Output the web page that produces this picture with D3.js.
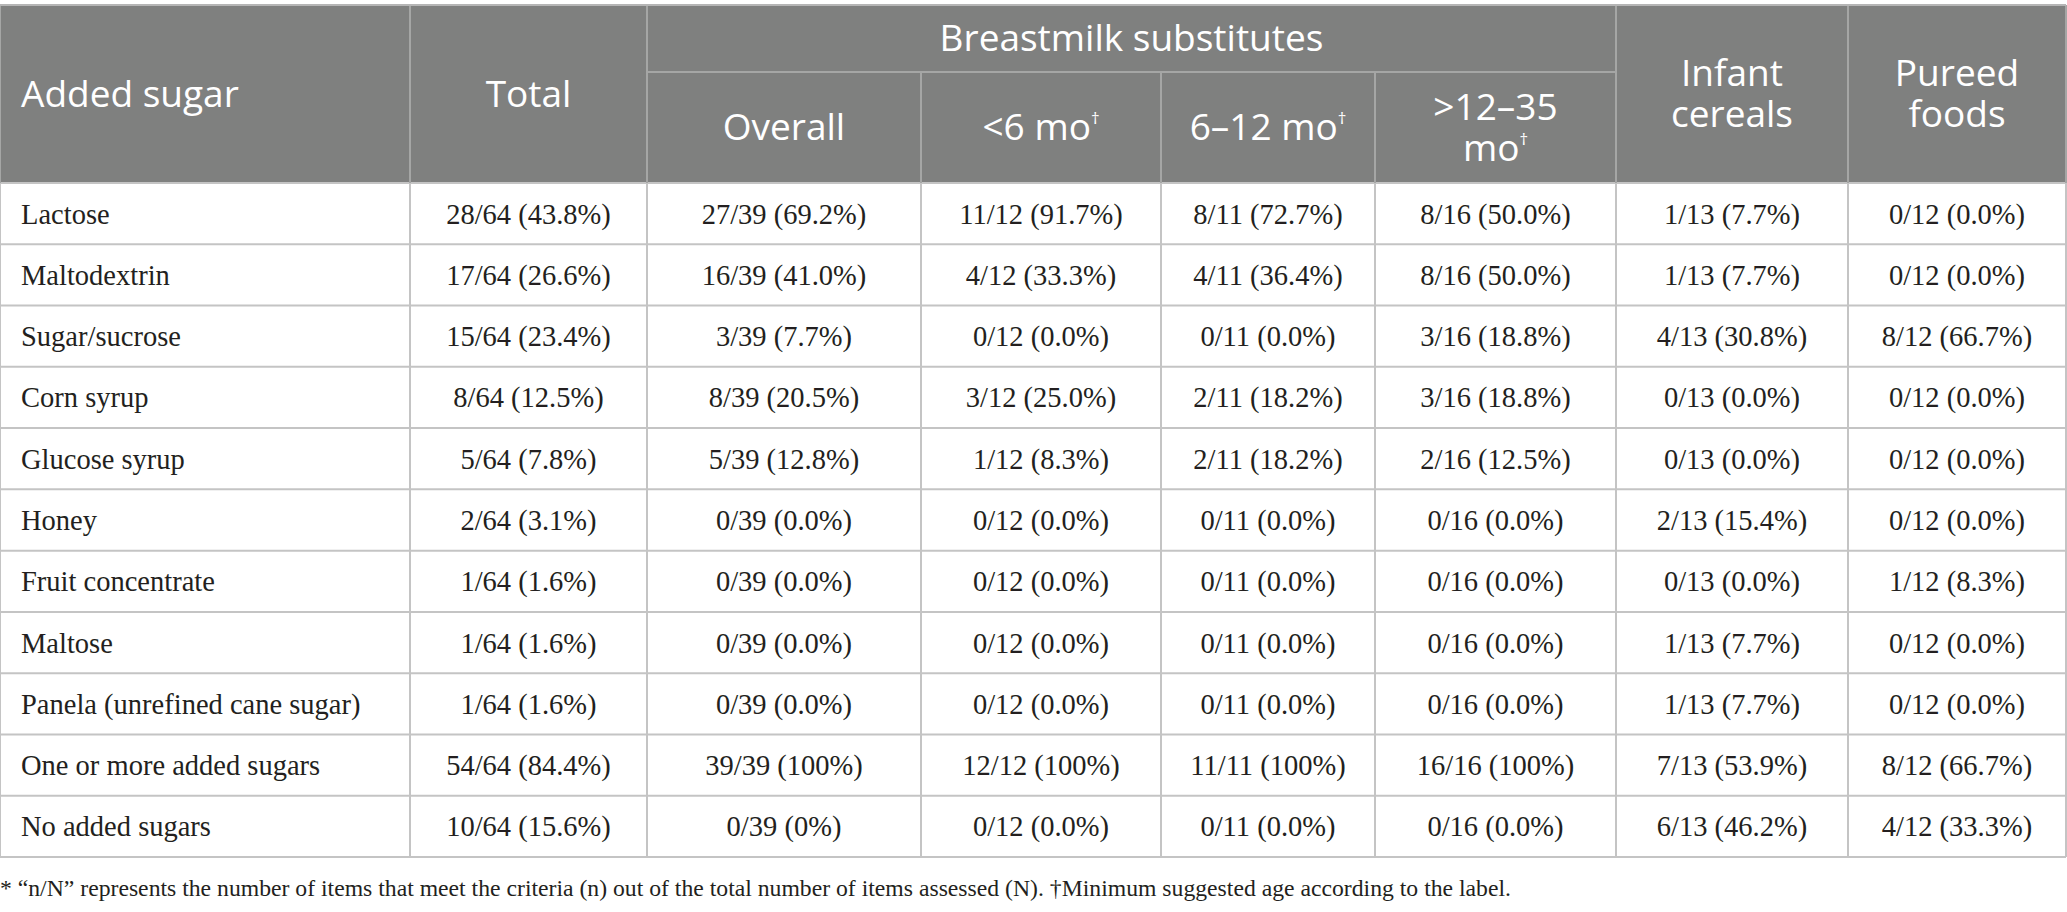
<!DOCTYPE html>
<html>
<head>
<meta charset="utf-8">
<script src="https://cdn.jsdelivr.net/npm/d3@7"></script>
<style>
  body { margin: 0; background: #fff; }
  svg { display: block; }
</style>
</head>
<body>
<div id="chart"></div>
<script>
var sugars = ["Lactose", "Maltodextrin", "Sugar/sucrose", "Corn syrup", "Glucose syrup", "Honey",
  "Fruit concentrate", "Maltose", "Panela (unrefined cane sugar)", "One or more added sugars", "No added sugars"];

var totalVals = ["28/64 (43.8%)", "17/64 (26.6%)", "15/64 (23.4%)", "8/64 (12.5%)", "5/64 (7.8%)", "2/64 (3.1%)",
  "1/64 (1.6%)", "1/64 (1.6%)", "1/64 (1.6%)", "54/64 (84.4%)", "10/64 (15.6%)"];
var overallVals = ["27/39 (69.2%)", "16/39 (41.0%)", "3/39 (7.7%)", "8/39 (20.5%)", "5/39 (12.8%)", "0/39 (0.0%)",
  "0/39 (0.0%)", "0/39 (0.0%)", "0/39 (0.0%)", "39/39 (100%)", "0/39 (0%)"];
var under6Vals = ["11/12 (91.7%)", "4/12 (33.3%)", "0/12 (0.0%)", "3/12 (25.0%)", "1/12 (8.3%)", "0/12 (0.0%)",
  "0/12 (0.0%)", "0/12 (0.0%)", "0/12 (0.0%)", "12/12 (100%)", "0/12 (0.0%)"];
var m6to12Vals = ["8/11 (72.7%)", "4/11 (36.4%)", "0/11 (0.0%)", "2/11 (18.2%)", "2/11 (18.2%)", "0/11 (0.0%)",
  "0/11 (0.0%)", "0/11 (0.0%)", "0/11 (0.0%)", "11/11 (100%)", "0/11 (0.0%)"];
var m12to35Vals = ["8/16 (50.0%)", "8/16 (50.0%)", "3/16 (18.8%)", "3/16 (18.8%)", "2/16 (12.5%)", "0/16 (0.0%)",
  "0/16 (0.0%)", "0/16 (0.0%)", "0/16 (0.0%)", "16/16 (100%)", "0/16 (0.0%)"];
var cerealVals = ["1/13 (7.7%)", "1/13 (7.7%)", "4/13 (30.8%)", "0/13 (0.0%)", "0/13 (0.0%)", "2/13 (15.4%)",
  "0/13 (0.0%)", "1/13 (7.7%)", "1/13 (7.7%)", "7/13 (53.9%)", "6/13 (46.2%)"];
var pureedVals = ["0/12 (0.0%)", "0/12 (0.0%)", "8/12 (66.7%)", "0/12 (0.0%)", "0/12 (0.0%)", "0/12 (0.0%)",
  "1/12 (8.3%)", "0/12 (0.0%)", "0/12 (0.0%)", "8/12 (66.7%)", "4/12 (33.3%)"];

var columnKeys = ["sugar", "total", "overall", "under6", "m6to12", "m12to35", "cereal", "pureed"];
var valueColumns = [totalVals, overallVals, under6Vals, m6to12Vals, m12to35Vals, cerealVals, pureedVals];

var groupLabel = "Breastmilk substitutes";
var footnote = "* \u201cn/N\u201d represents the number of items that meet the criteria (n) out of the total number of items assessed (N). \u2020Minimum suggested age according to the label.";

function init() {
  var w = 2067, h = 912;

  // layout (column edges, header band, rows)
  var colEdges = [0, 410, 647, 921, 1161, 1375, 1616, 1848, 2066];
  var tableTop = 5, groupBottom = 72, headBottom = 183, tableBottom = 857;

  var xLeft = d3.scaleOrdinal().domain(columnKeys).range(colEdges.slice(0, 8));
  var xRight = d3.scaleOrdinal().domain(columnKeys).range(colEdges.slice(1));
  function xMid(k) { return (xLeft(k) + xRight(k)) / 2; }

  var yScale = d3.scaleBand()
    .domain(d3.range(sugars.length))
    .range([headBottom, tableBottom]);

  var headFont = "'Open Sans', 'Noto Sans', sans-serif";
  var bodyFont = "'Liberation Serif', 'DejaVu Serif', serif";
  var headBg = "#7f807f";
  var bodyLine = "#c4c4c4";
  var headLine = "#a5a6a5";

  var svg = d3.select("#chart")
    .append("svg")
    .attr("width", w)
    .attr("height", h);

  // header background
  svg.append("rect")
    .attr("x", 0).attr("y", tableTop)
    .attr("width", colEdges[8]).attr("height", headBottom - tableTop)
    .attr("fill", headBg);

  // row grid lines
  svg.selectAll("line.row")
    .data(d3.range(sugars.length + 1))
    .enter()
    .append("line")
    .attr("class", "row")
    .attr("x1", 0).attr("x2", colEdges[8])
    .attr("y1", function(d) { return yScale(0) + d * yScale.bandwidth(); })
    .attr("y2", function(d) { return yScale(0) + d * yScale.bandwidth(); })
    .attr("stroke", bodyLine)
    .attr("stroke-width", 2);

  // column lines in body
  svg.selectAll("line.col")
    .data(colEdges)
    .enter()
    .append("line")
    .attr("class", "col")
    .attr("x1", function(d) { return d; }).attr("x2", function(d) { return d; })
    .attr("y1", headBottom).attr("y2", tableBottom)
    .attr("stroke", bodyLine)
    .attr("stroke-width", 2);

  // header lines
  var headCols = [
    { x: colEdges[0], y1: tableTop, y2: headBottom },
    { x: colEdges[1], y1: tableTop, y2: headBottom },
    { x: colEdges[2], y1: tableTop, y2: headBottom },
    { x: colEdges[3], y1: groupBottom, y2: headBottom },
    { x: colEdges[4], y1: groupBottom, y2: headBottom },
    { x: colEdges[5], y1: groupBottom, y2: headBottom },
    { x: colEdges[6], y1: tableTop, y2: headBottom },
    { x: colEdges[7], y1: tableTop, y2: headBottom },
    { x: colEdges[8], y1: tableTop, y2: headBottom }
  ];
  svg.selectAll("line.hcol")
    .data(headCols)
    .enter()
    .append("line")
    .attr("class", "hcol")
    .attr("x1", function(d) { return d.x; }).attr("x2", function(d) { return d.x; })
    .attr("y1", function(d) { return d.y1; }).attr("y2", function(d) { return d.y2; })
    .attr("stroke", headLine)
    .attr("stroke-width", 2);

  svg.append("line")
    .attr("x1", colEdges[2]).attr("x2", colEdges[6])
    .attr("y1", groupBottom).attr("y2", groupBottom)
    .attr("stroke", headLine).attr("stroke-width", 2);

  svg.append("line")
    .attr("x1", 0).attr("x2", colEdges[8])
    .attr("y1", tableTop).attr("y2", tableTop)
    .attr("stroke", "#b5b5b5").attr("stroke-width", 2);

  // header text
  var head = svg.append("g")
    .attr("font-family", headFont)
    .attr("font-size", 37)
    .attr("fill", "#fff");

  var midHead = (tableTop + headBottom) / 2;
  var subMid = (groupBottom + headBottom) / 2;

  head.append("text")
    .attr("x", 21).attr("y", midHead)
    .attr("dy", "0.35em")
    .text("Added sugar");

  head.append("text")
    .attr("x", xMid("total")).attr("y", midHead)
    .attr("dy", "0.35em").attr("text-anchor", "middle")
    .text("Total");

  head.append("text")
    .attr("x", (colEdges[2] + colEdges[6]) / 2).attr("y", (tableTop + groupBottom) / 2)
    .attr("dy", "0.35em").attr("text-anchor", "middle")
    .text(groupLabel);

  var subHeads = [
    { key: "overall", lines: [["Overall", false]] },
    { key: "under6", lines: [["<6 mo", true]] },
    { key: "m6to12", lines: [["6\u201312 mo", true]] },
    { key: "m12to35", lines: [[">12\u201335", false], ["mo", true]] }
  ];
  var lineGap = 41;

  function drawHead(cx, cy, lines) {
    var t = head.append("text")
      .attr("x", cx)
      .attr("text-anchor", "middle");
    lines.forEach(function(l, i) {
      var y = cy + (i - (lines.length - 1) / 2) * lineGap;
      t.append("tspan")
        .attr("x", cx).attr("y", y).attr("dy", "0.35em")
        .text(l[0]);
      if (l[1]) {
        t.append("tspan")
          .attr("font-size", 17)
          .attr("dy", "-0.95em")
          .text("\u2020");
      }
    });
  }

  subHeads.forEach(function(s) { drawHead(xMid(s.key), subMid, s.lines); });
  drawHead(xMid("cereal"), midHead, [["Infant", false], ["cereals", false]]);
  drawHead(xMid("pureed"), midHead, [["Pureed", false], ["foods", false]]);

  // body cells
  var body = svg.append("g")
    .attr("font-family", bodyFont)
    .attr("font-size", 28.5)
    .attr("fill", "#231f20");

  body.selectAll("text.label")
    .data(sugars)
    .enter()
    .append("text")
    .attr("class", "label")
    .attr("x", 21)
    .attr("y", function(d, i) { return yScale(i) + yScale.bandwidth() / 2; })
    .attr("dy", "0.35em")
    .text(function(d) { return d; });

  valueColumns.forEach(function(vals, c) {
    var key = columnKeys[c + 1];
    body.selectAll("text.c" + c)
      .data(vals)
      .enter()
      .append("text")
      .attr("class", "c" + c)
      .attr("x", xMid(key))
      .attr("y", function(d, i) { return yScale(i) + yScale.bandwidth() / 2; })
      .attr("dy", "0.35em")
      .attr("text-anchor", "middle")
      .text(function(d) { return d; });
  });

  svg.append("text")
    .attr("x", 0).attr("y", 888)
    .attr("dy", "0.35em")
    .attr("font-family", bodyFont)
    .attr("font-size", 23.7)
    .attr("fill", "#231f20")
    .text(footnote);
}

window.onload = init;
</script>
</body>
</html>
